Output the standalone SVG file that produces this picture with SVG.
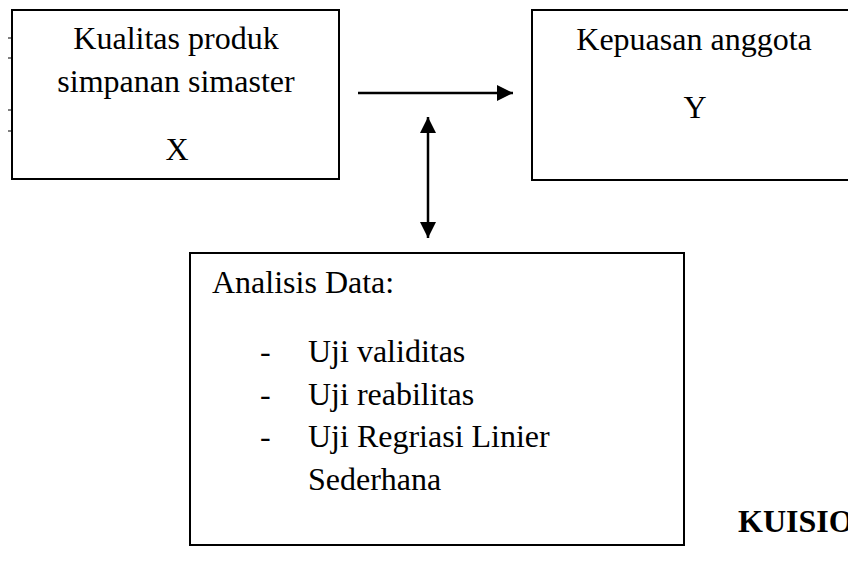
<svg xmlns="http://www.w3.org/2000/svg" width="848" height="563" viewBox="0 0 848 563">
<style>
.box{fill:#fff;stroke:#000;stroke-width:2}
.t{font-family:"Liberation Serif","Times New Roman",serif;font-size:32px;fill:#000}
.c{text-anchor:middle}
.b{font-weight:bold}
.ln{stroke:#000;stroke-width:2.5;fill:none}
.tick{stroke:#000;stroke-width:1}
</style>
<defs>
<marker id="ah" viewBox="0 0 16 16" refX="16" refY="8" markerWidth="16" markerHeight="16" markerUnits="userSpaceOnUse" orient="auto-start-reverse">
<path d="M0,0 L16,8 L0,16 Z" fill="#000"/>
</marker>
</defs>
<rect width="848" height="563" fill="#fff"/>
<g id="ticks">
<line class="tick" x1="8" y1="38" x2="12" y2="38"/>
<line class="tick" x1="8" y1="58" x2="12" y2="58"/>
<line class="tick" x1="8" y1="110" x2="12" y2="110"/>
<line class="tick" x1="8" y1="131" x2="12" y2="131"/>
</g>
<g id="nodeX">
<rect class="box" x="12" y="10" width="327" height="169"/>
<text class="t c" x="176" y="49">Kualitas produk</text>
<text class="t c" x="176" y="92">simpanan simaster</text>
<text class="t c" x="177" y="160">X</text>
</g>
<g id="nodeY">
<rect class="box" x="532" y="10" width="330" height="170"/>
<text class="t c" x="694" y="50">Kepuasan anggota</text>
<text class="t c" x="695" y="118">Y</text>
</g>
<g id="nodeAnalisis">
<rect class="box" x="190" y="253" width="494" height="292"/>
<text class="t" x="212" y="293">Analisis Data:</text>
<text class="t" x="260" y="362">-</text>
<text class="t" x="308" y="362">Uji validitas</text>
<text class="t" x="260" y="405">-</text>
<text class="t" x="308" y="405">Uji reabilitas</text>
<text class="t" x="260" y="447">-</text>
<text class="t" x="308" y="447">Uji Regriasi Linier</text>
<text class="t" x="308" y="490">Sederhana</text>
</g>
<g id="kuisioner">
<text class="t b" x="738" y="532">KUISIO</text>
</g>
<g id="connectors">
<line class="ln" x1="358" y1="93" x2="513" y2="93" marker-end="url(#ah)"/>
<line class="ln" x1="428" y1="117" x2="428" y2="238" marker-start="url(#ah)" marker-end="url(#ah)"/>
</g>
</svg>
